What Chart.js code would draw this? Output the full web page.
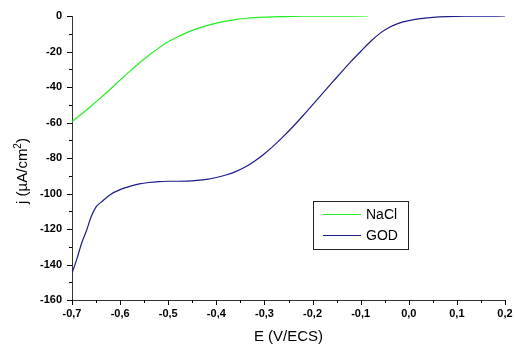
<!DOCTYPE html>
<html>
<head>
<meta charset="utf-8">
<script src="https://cdn.jsdelivr.net/npm/chart.js@4.4.0/dist/chart.umd.min.js"></script>
<style>
    html, body {margin: 0; padding: 0; background: #fff;}
    #wrap {width: 515px; height: 345px;}
</style>
</head>
<body>
<div id="wrap"><canvas id="chart" width="515" height="345"></canvas></div>
<script>
// NaCl blank: potential (V/ECS) and current density (µA/cm²)
const NACL_E = [-0.70, -0.68, -0.66, -0.64, -0.62, -0.60, -0.58, -0.56, -0.54, -0.52, -0.50,
    -0.48, -0.46, -0.44, -0.42, -0.40, -0.38, -0.36, -0.34, -0.32, -0.30, -0.26, -0.22, -0.16, -0.085];
const NACL_J = [-59.5, -55.2, -50.7, -46.0, -41.1, -36.1, -31.2, -26.5, -22.1, -18.1, -14.5,
    -11.7, -9.2, -7.1, -5.4, -4.0, -2.9, -2.0, -1.4, -0.95, -0.65, -0.3, -0.15, -0.05, 0];

// GOD electrode
const GOD_E = [-0.70, -0.69, -0.68, -0.67, -0.66, -0.65, -0.64, -0.62, -0.60, -0.58, -0.56, -0.54,
    -0.52, -0.50, -0.48, -0.46, -0.44, -0.42, -0.40, -0.38, -0.36, -0.34, -0.32, -0.30, -0.28,
    -0.26, -0.24, -0.22, -0.20, -0.18, -0.16, -0.14, -0.12, -0.10, -0.08, -0.06, -0.04, -0.02,
    0.00, 0.02, 0.05, 0.08, 0.12, 0.16, 0.20];
const GOD_J = [-145, -137, -128, -121, -113, -107.5, -105, -100.5, -97.8, -96, -94.6, -93.8,
    -93.3, -93.1, -93.1, -93.0, -92.6, -92.0, -91.0, -89.6, -87.7, -85.1, -81.7, -77.6, -72.9,
    -67.7, -62.1, -56.2, -50.1, -43.9, -37.7, -31.6, -25.6, -20.0, -14.5, -9.8, -6.3, -4.0,
    -2.6, -1.6, -0.8, -0.4, -0.15, -0.05, 0];

const SERIES_NAMES = ["NaCl", "GOD"];
const SERIES_COLORS = ["#22ee22", "#1c1c8a"];

const X_MIN = -0.7, X_MAX = 0.2, X_STEP = 0.05;   // labels every 0.1
const Y_MIN = -160, Y_MAX = 0, Y_STEP = 10;       // labels every 20

const TICK_FONT = {family: "'Liberation Sans', Arial, sans-serif", size: 11, weight: "bold"};
const AXIS_COLOR = "#333";

function toPoints(xs, ys) {
    return xs.map((x, i) => ({x, y: ys[i]}));
}

function isMajorX(v) {
    return Math.abs(Math.round(v * 20)) % 2 === 0;
}

function isMajorY(v) {
    return Math.abs(Math.round(v)) % 20 === 0;
}

/**
 * Draws outward tick marks, long for labelled ticks and short for the others.
 */
const tickMarks = {
    id: "tickMarks",
    afterDraw(chart) {
        const {ctx, scales: {x, y}, chartArea} = chart;
        ctx.save();
        ctx.strokeStyle = "#000";
        ctx.lineWidth = 1;
        ctx.beginPath();
        x.ticks.forEach((t) => {
            const px = Math.round(x.getPixelForValue(t.value)) + 0.5;
            const len = isMajorX(t.value) ? 5 : 3;
            ctx.moveTo(px, chartArea.bottom);
            ctx.lineTo(px, chartArea.bottom + len);
        });
        y.ticks.forEach((t) => {
            const py = Math.round(y.getPixelForValue(t.value)) + 0.5;
            const len = isMajorY(t.value) ? 5 : 3;
            ctx.moveTo(chartArea.left, py);
            ctx.lineTo(chartArea.left - len, py);
        });
        ctx.stroke();
        ctx.restore();
    },
};

/**
 * Axis titles: the y one needs a superscript, so both are drawn here.
 */
const axisTitles = {
    id: "axisTitles",
    afterDraw(chart) {
        const {ctx, chartArea} = chart;
        ctx.save();
        ctx.fillStyle = "#000";
        ctx.textBaseline = "alphabetic";

        ctx.font = "15px 'Liberation Sans', Arial, sans-serif";
        ctx.textAlign = "center";
        ctx.fillText("E (V/ECS)", (chartArea.left + chartArea.right) / 2, 341);

        // j (µA/cm²) rotated
        const parts = [
            {t: "j (µA/cm", f: "15px 'Liberation Sans', Arial, sans-serif", dy: 0},
            {t: "2", f: "10px 'Liberation Sans', Arial, sans-serif", dy: -6},
            {t: ")", f: "15px 'Liberation Sans', Arial, sans-serif", dy: 0},
        ];
        let total = 0;
        parts.forEach((p) => {
            ctx.font = p.f;
            p.w = ctx.measureText(p.t).width;
            total += p.w;
        });
        ctx.translate(27, 171 + total / 2);
        ctx.rotate(-Math.PI / 2);
        ctx.textAlign = "left";
        let cx = 0;
        parts.forEach((p) => {
            ctx.font = p.f;
            ctx.fillText(p.t, cx, p.dy);
            cx += p.w;
        });
        ctx.restore();
    },
};

/**
 * Boxed legend sitting inside the plot.
 */
const boxLegend = {
    id: "boxLegend",
    afterDraw(chart) {
        const {ctx} = chart;
        const box = {x: 313.5, y: 201.5, w: 95, h: 48};
        ctx.save();
        ctx.fillStyle = "#fff";
        ctx.fillRect(box.x, box.y, box.w, box.h);
        ctx.strokeStyle = "#222";
        ctx.lineWidth = 1;
        ctx.strokeRect(box.x, box.y, box.w, box.h);
        ctx.font = "14px 'Liberation Sans', Arial, sans-serif";
        ctx.textBaseline = "middle";
        ctx.textAlign = "left";
        chart.data.datasets.forEach((ds, i) => {
            const ly = 214.5 + i * 21;
            ctx.strokeStyle = ds.borderColor;
            ctx.beginPath();
            ctx.moveTo(323, ly);
            ctx.lineTo(361, ly);
            ctx.stroke();
            ctx.fillStyle = "#000";
            ctx.fillText(ds.label, 366, ly + 1);
        });
        ctx.restore();
    },
};

new Chart(document.getElementById("chart"), {
    type: "scatter",
    data: {
        datasets: [
            {
                label: SERIES_NAMES[0],
                data: toPoints(NACL_E, NACL_J),
                borderColor: SERIES_COLORS[0],
                borderWidth: 1.2,
                showLine: true,
                pointRadius: 0,
                tension: 0.3,
            },
            {
                label: SERIES_NAMES[1],
                data: toPoints(GOD_E, GOD_J),
                borderColor: SERIES_COLORS[1],
                borderWidth: 1.2,
                showLine: true,
                pointRadius: 0,
                tension: 0.3,
            },
        ],
    },
    options: {
        responsive: false,
        animation: false,
        layout: {padding: {top: 16, right: 10, left: 0, bottom: 0}},
        plugins: {
            legend: {display: false},
            tooltip: {enabled: false},
        },
        scales: {
            x: {
                type: "linear",
                min: X_MIN,
                max: X_MAX,
                afterFit(scale) {
                    scale.height = 45;
                },
                border: {display: true, color: AXIS_COLOR, width: 1},
                grid: {drawOnChartArea: false, drawTicks: true, tickLength: 5, tickColor: "transparent"},
                ticks: {
                    stepSize: X_STEP,
                    autoSkip: false,
                    maxRotation: 0,
                    padding: 2,
                    color: "#000",
                    font: TICK_FONT,
                    callback: (v) => (isMajorX(v) ? v.toFixed(1).replace("-0.0", "0.0").replace(".", ",") : ""),
                },
            },
            y: {
                type: "linear",
                min: Y_MIN,
                max: Y_MAX,
                afterFit(scale) {
                    scale.width = 72;
                },
                border: {display: true, color: AXIS_COLOR, width: 1},
                grid: {drawOnChartArea: false, drawTicks: true, tickLength: 5, tickColor: "transparent"},
                ticks: {
                    stepSize: Y_STEP,
                    autoSkip: false,
                    padding: 5,
                    color: "#000",
                    font: TICK_FONT,
                    callback: (v) => (isMajorY(v) ? String(Math.round(v)) : ""),
                },
            },
        },
    },
    plugins: [tickMarks, axisTitles, boxLegend],
});
</script>
</body>
</html>
